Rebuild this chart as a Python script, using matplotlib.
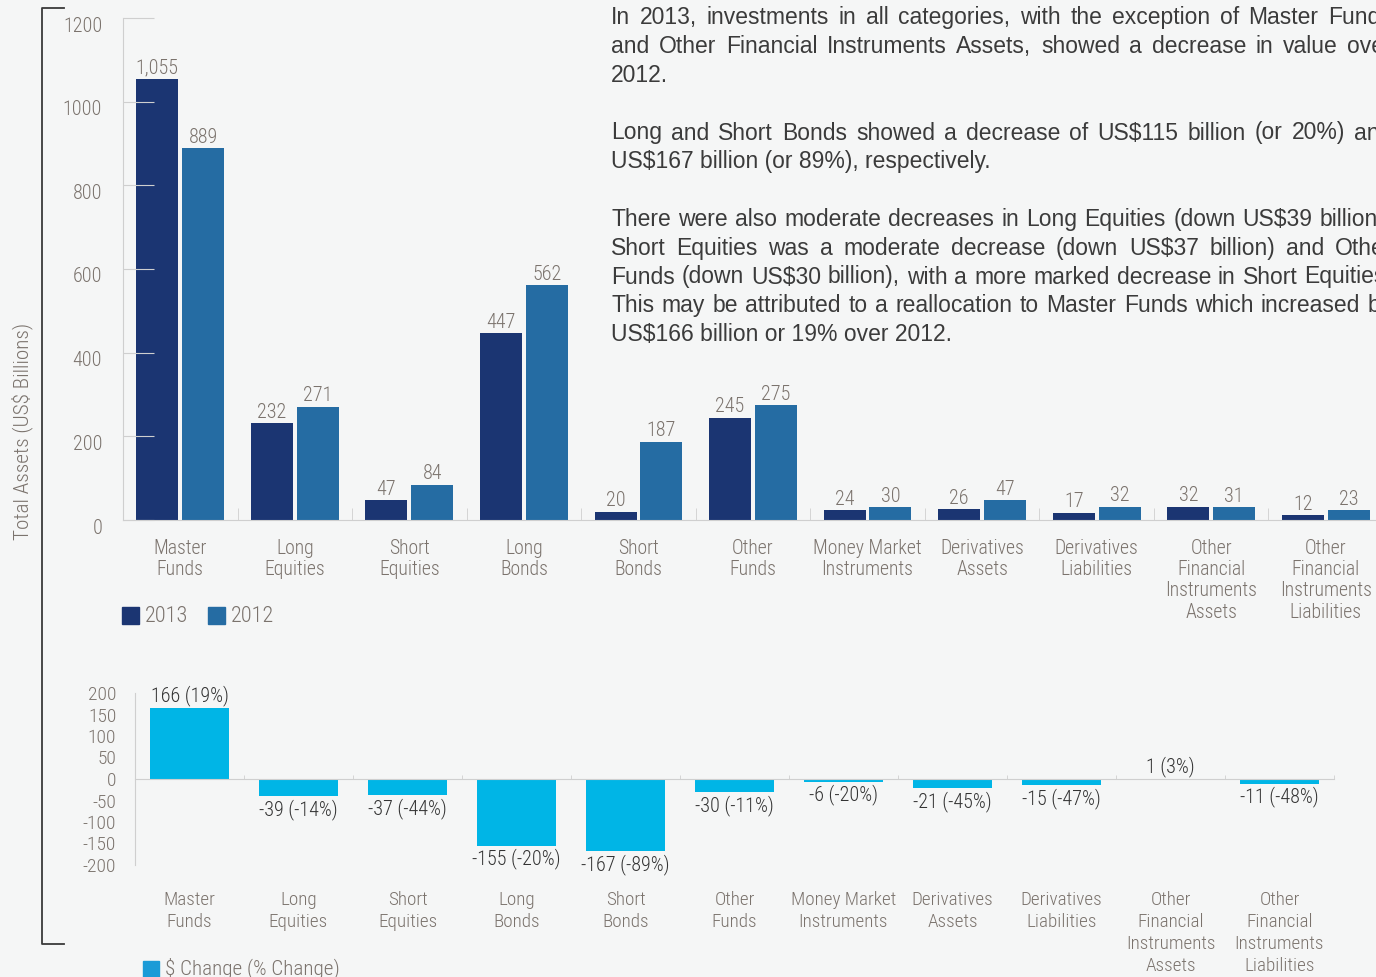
import matplotlib
matplotlib.use("Agg")
import matplotlib.pyplot as plt
from matplotlib.patches import Rectangle
from matplotlib.lines import Line2D
from matplotlib.transforms import ScaledTranslation
import numpy as np

# ---------------- data ----------------
categories = ["Master\nFunds", "Long\nEquities", "Short\nEquities", "Long\nBonds",
              "Short\nBonds", "Other\nFunds", "Money Market\nInstruments",
              "Derivatives\nAssets", "Derivatives\nLiabilities",
              "Other\nFinancial\nInstruments\nAssets",
              "Other\nFinancial\nInstruments\nLiabilities"]
values_2013 = [1055, 232, 47, 447, 20, 245, 24, 26, 17, 32, 12]
values_2012 = [889, 271, 84, 562, 187, 275, 30, 47, 32, 31, 23]
change_usd = [166, -39, -37, -155, -167, -30, -6, -21, -15, 1, -11]
change_pct = [19, -14, -44, -20, -89, -11, -20, -45, -47, 3, -48]
top_yticks = [0, 200, 400, 600, 800, 1000, 1200]
bottom_yticks = [-200, -150, -100, -50, 0, 50, 100, 150, 200]

paragraph_lines = [
    ("In 2013, investments in all categories, with the exception of Master Funds", True),
    ("and Other Financial Instruments Assets, showed a decrease in value over", True),
    ("2012.", False),
    ("", False),
    ("Long and Short Bonds showed a decrease  of US$115 billion (or 20%) and", True),
    ("US$167 billion (or 89%), respectively.", False),
    ("", False),
    ("There were also moderate decreases in Long Equities (down US$39 billion).", True),
    ("Short Equities was a moderate decrease (down US$37 billion) and Other", True),
    ("Funds (down US$30 billion), with a more marked decrease in Short Equities.", True),
    ("This may be attributed to a reallocation to Master Funds which increased by", True),
    ("US$166 billion or 19% over 2012.", False),
]

# ---------------- style ----------------
W, H = 1376, 977
BG = "#f5f6f6"
C2013 = "#1b3572"
C2012 = "#256ca3"
CCHG = "#00b5e6"
CLEG = "#1b9bd7"
GRAY_TXT = "#7b736d"
DARK_TXT = "#333333"
AXIS = "#cfcfcf"
COND = ["Roboto Condensed", "Liberation Sans Narrow", "DejaVu Sans"]
LW = "light"

plt.rcParams["font.family"] = COND
plt.rcParams["font.weight"] = LW

fig = plt.figure(figsize=(W / 100, H / 100), dpi=100, facecolor=BG)

def fx(px):
    return px / W

def fy(py):
    return 1 - py / H

x = np.arange(len(categories)) + 0.5

# ---------------- top chart ----------------
ax1 = fig.add_axes([fx(123), fy(520), (1383 - 123) / W, (520 - 18) / H])
ax1.set_facecolor("none")
bw = 0.367
b13 = ax1.bar(x - 0.2, values_2013, bw, color=C2013)
b12 = ax1.bar(x + 0.2, values_2012, bw, color=C2012)
ax1.set_xlim(0, len(categories))
ax1.set_ylim(0, 1200)
for bars, vals in ((b13, values_2013), (b12, values_2012)):
    for r, v in zip(bars, vals):
        ax1.annotate(f"{v:,}", (r.get_x() + r.get_width() / 2, v),
                     xytext=(0, 1), textcoords="offset points",
                     ha="center", va="bottom", fontsize=14.5, color=GRAY_TXT,
                     fontweight=LW)
for s in ("top", "right"):
    ax1.spines[s].set_visible(False)
for s in ("left", "bottom"):
    ax1.spines[s].set_color(AXIS)
ax1.set_yticks(top_yticks)
ax1.set_yticklabels([str(t) for t in top_yticks], fontweight=LW)
ax1.tick_params(axis="y", direction="in", length=22, color=AXIS, pad=15,
                labelsize=14.5, labelcolor=GRAY_TXT)
for lab in ax1.get_yticklabels():
    lab.set_transform(lab.get_transform() + ScaledTranslation(0, -6 / 100, fig.dpi_scale_trans))
ax1.set_xticks(x)
ax1.set_xticklabels(categories, linespacing=1.15, fontweight=LW)
ax1.tick_params(axis="x", which="major", length=0, pad=13.5, labelsize=14.2,
                labelcolor=GRAY_TXT)
ax1.set_xticks(np.arange(1, len(categories)), minor=True)
ax1.tick_params(axis="x", which="minor", direction="in", length=8.6, color=AXIS)

# top legend
for sx, col, lab in ((122, C2013, "2013"), (208, C2012, "2012")):
    fig.patches.append(Rectangle((fx(sx), fy(624)), 17 / W, 17 / H, color=col,
                                 transform=fig.transFigure, figure=fig))
    fig.text(fx(sx + 23), fy(616), lab, fontsize=16, color=GRAY_TXT,
             va="center", ha="left", fontweight=LW)

# ---------------- bottom chart ----------------
ax2 = fig.add_axes([fx(135), fy(865), (1334 - 135) / W, (865 - 693) / H])
ax2.set_facecolor("none")
bars = ax2.bar(x, change_usd, 0.725, color=CCHG)
ax2.set_xlim(0, len(categories))
ax2.set_ylim(-200, 200)
for r, v, p in zip(bars, change_usd, change_pct):
    if v >= 0:
        ax2.annotate(f"{v} ({p}%)", (r.get_x() + r.get_width() / 2, v),
                     xytext=(0, 1), textcoords="offset points",
                     ha="center", va="bottom", fontsize=14.5, color=DARK_TXT,
                     fontweight=LW)
    else:
        ax2.annotate(f"{v} ({p}%)", (r.get_x() + r.get_width() / 2, v),
                     xytext=(0, -2), textcoords="offset points",
                     ha="center", va="top", fontsize=14.5, color=DARK_TXT,
                     fontweight=LW)
for s in ("top", "right"):
    ax2.spines[s].set_visible(False)
ax2.spines["bottom"].set_position(("data", 0))
for s in ("left", "bottom"):
    ax2.spines[s].set_color(AXIS)
ax2.set_yticks(bottom_yticks)
ax2.set_yticklabels([str(t) for t in bottom_yticks], fontweight=LW)
ax2.tick_params(axis="y", which="major", length=0, pad=13.5, labelsize=14,
                labelcolor=GRAY_TXT)
ax2.set_yticks([-200, -100, 100, 200], minor=True)
ax2.tick_params(axis="y", which="minor", direction="in", length=21.6, color=AXIS)
ax2.set_xticks(x)
ax2.set_xticklabels(categories, linespacing=1.3, fontweight=LW)
ax2.tick_params(axis="x", which="major", length=0, pad=80.5, labelsize=13.8,
                labelcolor=GRAY_TXT)
ax2.set_xticks(np.arange(1, len(categories) + 1), minor=True)
ax2.tick_params(axis="x", which="minor", direction="in", length=3, color=AXIS)

# bottom legend
fig.patches.append(Rectangle((fx(143), fy(977)), 16 / W, 16 / H, color=CLEG,
                             transform=fig.transFigure, figure=fig))
fig.text(fx(165), fy(968), "$ Change (% Change)", fontsize=15.2, color=GRAY_TXT,
         va="center", ha="left", fontweight=LW)

# ---------------- bracket & y label ----------------
fig.add_artist(Line2D([fx(64), fx(42), fx(42), fx(64)],
                      [fy(8), fy(8), fy(944), fy(944)],
                      color="#3a3a3a", lw=1.3, transform=fig.transFigure))
fig.text(fx(22), fy(431), "Total Assets (US$ Billions)", rotation=90,
         fontsize=15.3, color=GRAY_TXT, ha="center", va="center", fontweight=LW)

# ---------------- paragraph (justified) ----------------
renderer = fig.canvas.get_renderer()
PX0, PXR = 611, 1392
base = 24.3
step = 28.8
for i, (line, justify) in enumerate(paragraph_lines):
    if not line:
        continue
    yb = fy(base + step * i)
    kw = dict(fontsize=16.5, color="#3b3b3b", family=["Liberation Sans", "DejaVu Sans"],
              fontweight="normal", va="baseline", ha="left")
    if not justify:
        fig.text(fx(PX0), yb, line, **kw)
        continue
    words = line.split()
    ts = [fig.text(0, yb, w, **kw) for w in words]
    widths = [t.get_window_extent(renderer).width for t in ts]
    gap = (PXR - PX0 - sum(widths)) / (len(words) - 1)
    cx = PX0
    for t, w in zip(ts, widths):
        t.set_x(fx(cx))
        cx += w + gap

fig.savefig("out.png", dpi=100, facecolor=BG)
